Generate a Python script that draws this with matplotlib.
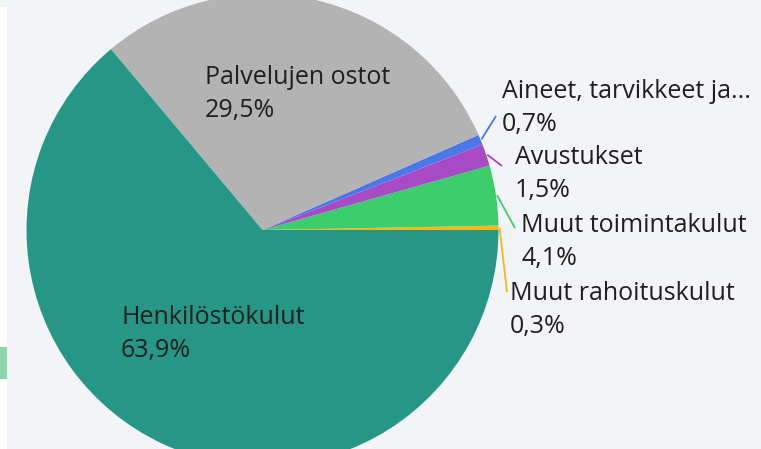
import numpy as np
import matplotlib.pyplot as plt
from matplotlib.patches import Rectangle

# slice data, counterclockwise from the right
labels = ["Muut rahoituskulut", "Muut toimintakulut", "Avustukset",
          "Aineet, tarvikkeet ja...", "Palvelujen ostot", "Henkilöstökulut"]
values = [0.3, 4.1, 1.5, 0.7, 29.5, 63.9]
pct_text = ["0,3%", "4,1%", "1,5%", "0,7%", "29,5%", "63,9%"]
colors = ["#f6b816", "#3ccd6c", "#a84ac6", "#4a78e8", "#b3b3b3", "#269786"]

W, H = 761, 449
fig = plt.figure(figsize=(W / 100, H / 100), dpi=100, facecolor="#f3f4f8")
ax = fig.add_axes([0, 0, 1, 1])
ax.set_facecolor("#f3f4f8")

cx, cy, r = 262.5, H - 230, 236
start = 0.0
wedges, _ = ax.pie(values, colors=colors, startangle=start, counterclock=True,
                   center=(cx, cy), radius=r, wedgeprops=dict(linewidth=0))
ax.set_xlim(0, W)
ax.set_ylim(0, H)
ax.set_aspect("equal")
ax.axis("off")

# left strip of the page
fig.patches.append(Rectangle((0, 0), 7 / W, (H - 7) / H, transform=fig.transFigure,
                             facecolor="white", edgecolor="none", zorder=0))
fig.patches.append(Rectangle((0, (H - 379) / H), 7 / W, 32 / H, transform=fig.transFigure,
                             facecolor="#8fd6ae", edgecolor="none", zorder=1))

fs = 18
tc = "#201f1e"

# label layout (left edge / centre of first line, pixels from top)
label_pos = {
    0: (510, 294),
    1: (521, 225),
    2: (515, 158),
    3: (502, 91),
    4: (205, 78),
    5: (121, 318),
}
leader_end = {
    0: (507, 292),
    1: (515, 228),
    2: (502, 166),
    3: (496, 116),
}
gap = 33

for i, w in enumerate(wedges):
    x, y = label_pos[i]
    ax.text(x, H - y, labels[i], fontsize=fs, color=tc, family="Open Sans",
            ha="left", va="center")
    ax.text(x, H - y - gap, pct_text[i], fontsize=fs, color=tc, family="Open Sans",
            ha="left", va="center")
    if i in leader_end:
        mid = np.deg2rad((w.theta1 + w.theta2) / 2)
        x0 = cx + (r + 1) * np.cos(mid)
        y0 = cy + (r + 1) * np.sin(mid)
        ex, ey = leader_end[i]
        ax.plot([x0, ex], [y0, H - ey], color=colors[i], lw=1.3, solid_capstyle="butt")

fig.savefig("out.png", dpi=100, facecolor=fig.get_facecolor())
